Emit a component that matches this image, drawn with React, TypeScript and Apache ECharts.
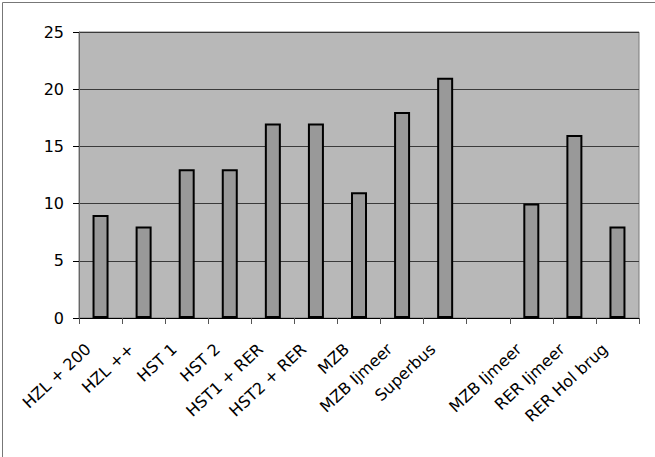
import React, { useEffect, useRef } from "react";
import * as echarts from "echarts";

const categories = [
  "HZL + 200",
  "HZL ++",
  "HST 1",
  "HST 2",
  "HST1 + RER",
  "HST2 + RER",
  "MZB",
  "MZB Ijmeer",
  "Superbus",
  "",
  "MZB Ijmeer",
  "RER Ijmeer",
  "RER Hol brug",
];
const values: (number | string)[] = [9, 8, 13, 13, 17, 17, 11, 18, 21, "-", 10, 16, 8];
const yTicks = { min: 0, max: 25, interval: 5 };

const FONT = "DejaVu Sans, Liberation Sans, Arial, sans-serif";

export default function App() {
  const ref = useRef<HTMLDivElement>(null);
  useEffect(() => {
    const chart = echarts.init(ref.current!, null, { renderer: "svg" });
    chart.setOption({
      animation: false,
      backgroundColor: "#ffffff",
      textStyle: { fontFamily: FONT },
      graphic: [
        {
          type: "rect",
          left: 0,
          top: 0,
          shape: { x: 0.5, y: 0.5, width: 654, height: 456 },
          style: { fill: "none", stroke: "#777777", lineWidth: 1 },
          silent: true,
        },
      ],
      grid: {
        left: 79,
        right: 16,
        top: 32,
        bottom: 139,
        show: true,
        backgroundColor: "#b8b8b8",
        borderColor: "#7a7a7a",
        borderWidth: 1,
      },
      xAxis: {
        type: "category",
        data: categories,
        boundaryGap: true,
        axisLine: { show: true, lineStyle: { color: "#000000", width: 1 } },
        axisTick: { show: true, length: 6, alignWithLabel: false, lineStyle: { color: "#555555" } },
        axisLabel: {
          interval: 0,
          rotate: 43,
          margin: 17,
          padding: [0, 17, 0, 0],
          fontSize: 16,
          color: "#000000",
          fontFamily: FONT,
        },
      },
      yAxis: {
        type: "value",
        min: yTicks.min,
        max: yTicks.max,
        interval: yTicks.interval,
        axisLine: { show: true, lineStyle: { color: "#666666", width: 1 } },
        axisTick: { show: true, length: 6, lineStyle: { color: "#000000" } },
        axisLabel: {
          fontSize: 16,
          margin: 15,
          color: "#000000",
          fontFamily: FONT,
        },
        splitLine: { show: true, lineStyle: { color: "#3a3a3a", width: 1 } },
      },
      series: [
        {
          type: "bar",
          data: values,
          barWidth: 16,
          itemStyle: { color: "#999999", borderColor: "#000000", borderWidth: 2 },
        },
      ],
    });
    return () => chart.dispose();
  }, []);
  return (
    <div
      ref={ref}
      style={{ position: "fixed", left: 0, top: 0, width: 655, height: 457 }}
    />
  );
}
